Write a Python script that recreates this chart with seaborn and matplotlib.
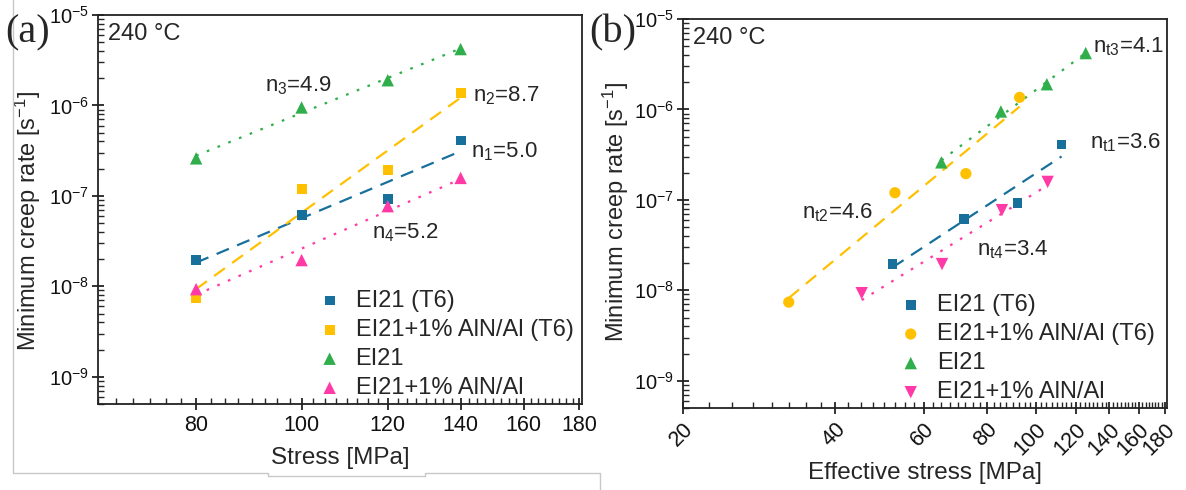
import numpy as np
import pandas as pd
import matplotlib
matplotlib.use("Agg")
import matplotlib.pyplot as plt
import seaborn as sns
from matplotlib.ticker import MultipleLocator, FixedLocator, FixedFormatter, NullFormatter
from matplotlib.lines import Line2D

# ---------------- data ----------------
series_labels = ["EI21 (T6)", "EI21+1% AlN/Al (T6)", "EI21", "EI21+1% AlN/Al"]

stress = [80, 100, 120, 140]
rate_T6 = [1.95e-8, 6.2e-8, 9.3e-8, 4.1e-7]
rate_AlN_T6 = [7.4e-9, 1.2e-7, 1.95e-7, 1.36e-6]
rate_EI21 = [2.6e-7, 0.95e-6, 1.9e-6, 4.2e-6]
rate_AlN = [9.3e-9, 1.95e-8, 7.7e-8, 1.58e-7]

eff_T6 = [52.0, 72.0, 92.0, 112.5]
eff_AlN_T6 = [32.4, 52.6, 72.7, 92.9]
eff_EI21 = [65.0, 85.3, 105.2, 125.6]
eff_AlN = [45.2, 65.2, 85.7, 105.6]

n_labels_a = ["n$_1$=5.0", "n$_2$=8.7", "n$_3$=4.9", "n$_4$=5.2"]
n_labels_b = ["n$_{t1}$=3.6", "n$_{t2}$=4.6", "n$_{t3}$=4.1", "n$_{t4}$=3.4"]

xticks_a = [80, 100, 120, 140, 160, 180]
xticks_b = [20, 40, 60, 80, 100, 120, 140, 160, 180]
yticks = [1e-9, 1e-8, 1e-7, 1e-6, 1e-5]
ytick_labels = ["10$^{-9}$", "10$^{-8}$", "10$^{-7}$", "10$^{-6}$", "10$^{-5}$"]

# ---------------- style ----------------
sns.set_theme(style="ticks")
plt.rcParams["font.family"] = ["Liberation Sans", "DejaVu Sans"]
plt.rcParams["mathtext.fontset"] = "custom"
plt.rcParams["mathtext.rm"] = "Liberation Sans"
plt.rcParams["mathtext.it"] = "Liberation Sans"
plt.rcParams["mathtext.default"] = "regular"

colors = ["#17709c", "#ffc000", "#2fae4b", "#ff3aa6"]
linestyles = [(0, (6, 4)), (0, (6, 4)), (0, (1.2, 4)), (0, (1.2, 4))]
markers_a = ["s", "s", "^", "^"]
markers_b = ["s", "o", "^", "v"]
sizes = {"s": 50, "o": 65, "^": 80, "v": 80}

fig = plt.figure(figsize=(11.86, 4.90), dpi=100)
ax_a = fig.add_axes([98 / 1186, 1 - 404 / 490, 484 / 1186, 389 / 490])
ax_b = fig.add_axes([683 / 1186, 1 - 408 / 490, 484 / 1186, 389 / 490])

rates = [rate_T6, rate_AlN_T6, rate_EI21, rate_AlN]
xs_a = [stress] * 4
xs_b = [eff_T6, eff_AlN_T6, eff_EI21, eff_AlN]

minor_y = [m * 10.0 ** e for e in range(-10, -5) for m in range(2, 10)]
minor_y = [v for v in minor_y if 5e-10 <= v <= 1e-5]


def draw(ax, xs, markers, ylab_pos):
    for i in range(4):
        x = np.array(xs[i], dtype=float)
        y = np.array(rates[i], dtype=float)
        k, b = np.polyfit(np.log10(x), np.log10(y), 1)
        xf = np.array([x.min(), x.max()])
        yf = 10 ** (k * np.log10(xf) + b)
        sns.lineplot(x=xf, y=yf, ax=ax, color=colors[i], lw=1.6,
                     linestyle=linestyles[i], sort=False, estimator=None,
                     legend=False, zorder=2)
    for i in range(4):
        m = markers[i]
        sns.scatterplot(x=xs[i], y=rates[i], ax=ax, marker=m, s=sizes[m],
                        color=colors[i], edgecolor="none", label=series_labels[i],
                        zorder=3)
    ax.set_xscale("log")
    ax.set_yscale("log")
    ax.set_ylim(5e-10, 1e-5)
    ax.yaxis.set_major_locator(FixedLocator(yticks))
    ax.yaxis.set_major_formatter(FixedFormatter(ytick_labels))
    ax.yaxis.set_minor_locator(FixedLocator(minor_y))
    ax.yaxis.set_minor_formatter(NullFormatter())
    for s in ax.spines.values():
        s.set_linewidth(1.3)
        s.set_color("#222222")
    ax.tick_params(which="major", direction="inout", length=9, width=1.2,
                   labelsize=15.5, colors="#111111")
    ax.tick_params(axis="y", which="major", pad=2, labelsize=14.5)
    ax.tick_params(which="minor", direction="in", length=4, width=1.0)
    ax.set_ylabel("Minimum creep rate [s$^{-1}$]", fontsize=17)
    ax.yaxis.set_label_coords(*ylab_pos)
    ax.text(0.021, 0.95, "240 \u00b0C", transform=ax.transAxes, fontsize=17,
            va="center", ha="left")


draw(ax_a, xs_a, markers_a, (-0.114, 0.47))
draw(ax_b, xs_b, markers_b, (-0.107, 0.504))

# panel a axes
ax_a.set_xlim(65, 181)
ax_a.xaxis.set_major_locator(FixedLocator(xticks_a))
ax_a.xaxis.set_major_formatter(FixedFormatter([str(v) for v in xticks_a]))
ax_a.xaxis.set_minor_locator(MultipleLocator(2.5))
ax_a.xaxis.set_minor_formatter(NullFormatter())
ax_a.set_xlabel("Stress [MPa]", fontsize=17.5, labelpad=8)

# panel b axes
ax_b.set_xlim(20, 182)
ax_b.xaxis.set_major_locator(FixedLocator(xticks_b))
ax_b.xaxis.set_major_formatter(FixedFormatter([str(v) for v in xticks_b]))
ax_b.xaxis.set_minor_locator(MultipleLocator(2.5))
ax_b.xaxis.set_minor_formatter(NullFormatter())
for lab in ax_b.get_xticklabels():
    lab.set_rotation(45)
    lab.set_ha("right")
    lab.set_rotation_mode("anchor")
ax_b.set_xlabel("Effective stress [MPa]", fontsize=17.5, labelpad=2)

# annotations
pos_a = [(0.771, 0.648), (0.775, 0.792), (0.345, 0.817), (0.566, 0.44)]
for t, (px, py) in zip(n_labels_a, pos_a):
    ax_a.text(px, py, t, transform=ax_a.transAxes, fontsize=16, va="center", ha="left")
pos_b = [(0.841, 0.681), (0.246, 0.501), (0.847, 0.928), (0.607, 0.406)]
for t, (px, py) in zip(n_labels_b, pos_b):
    ax_b.text(px, py, t, transform=ax_b.transAxes, fontsize=16, va="center", ha="left")

# legends
for ax, anchor in ((ax_a, (0.42, 0.318)), (ax_b, (0.412, 0.317))):
    ax.legend(loc="upper left", bbox_to_anchor=anchor, frameon=False, fontsize=17,
              handletextpad=0.3, labelspacing=0.3, borderaxespad=0.0,
              handlelength=1.6)

# panel labels
fig.text(5 / 1186, 1 - 33 / 490, "(a)", fontsize=29, family="Liberation Serif",
         va="center", ha="left")
fig.text(589 / 1186, 1 - 33 / 490, "(b)", fontsize=29, family="Liberation Serif",
         va="center", ha="left")

# light grey frame artefact of the original figure
W, H = 1186, 490
xp = [13, 13, 268, 268, 425, 425, 600, 600]
yp = [0, 473, 473, 476, 476, 473, 473, 490]
fig.add_artist(Line2D([v / W for v in xp], [1 - v / H for v in yp], color="#c8c8c8",
                      lw=1.0, transform=fig.transFigure))

fig.savefig("out.png", dpi=100)
